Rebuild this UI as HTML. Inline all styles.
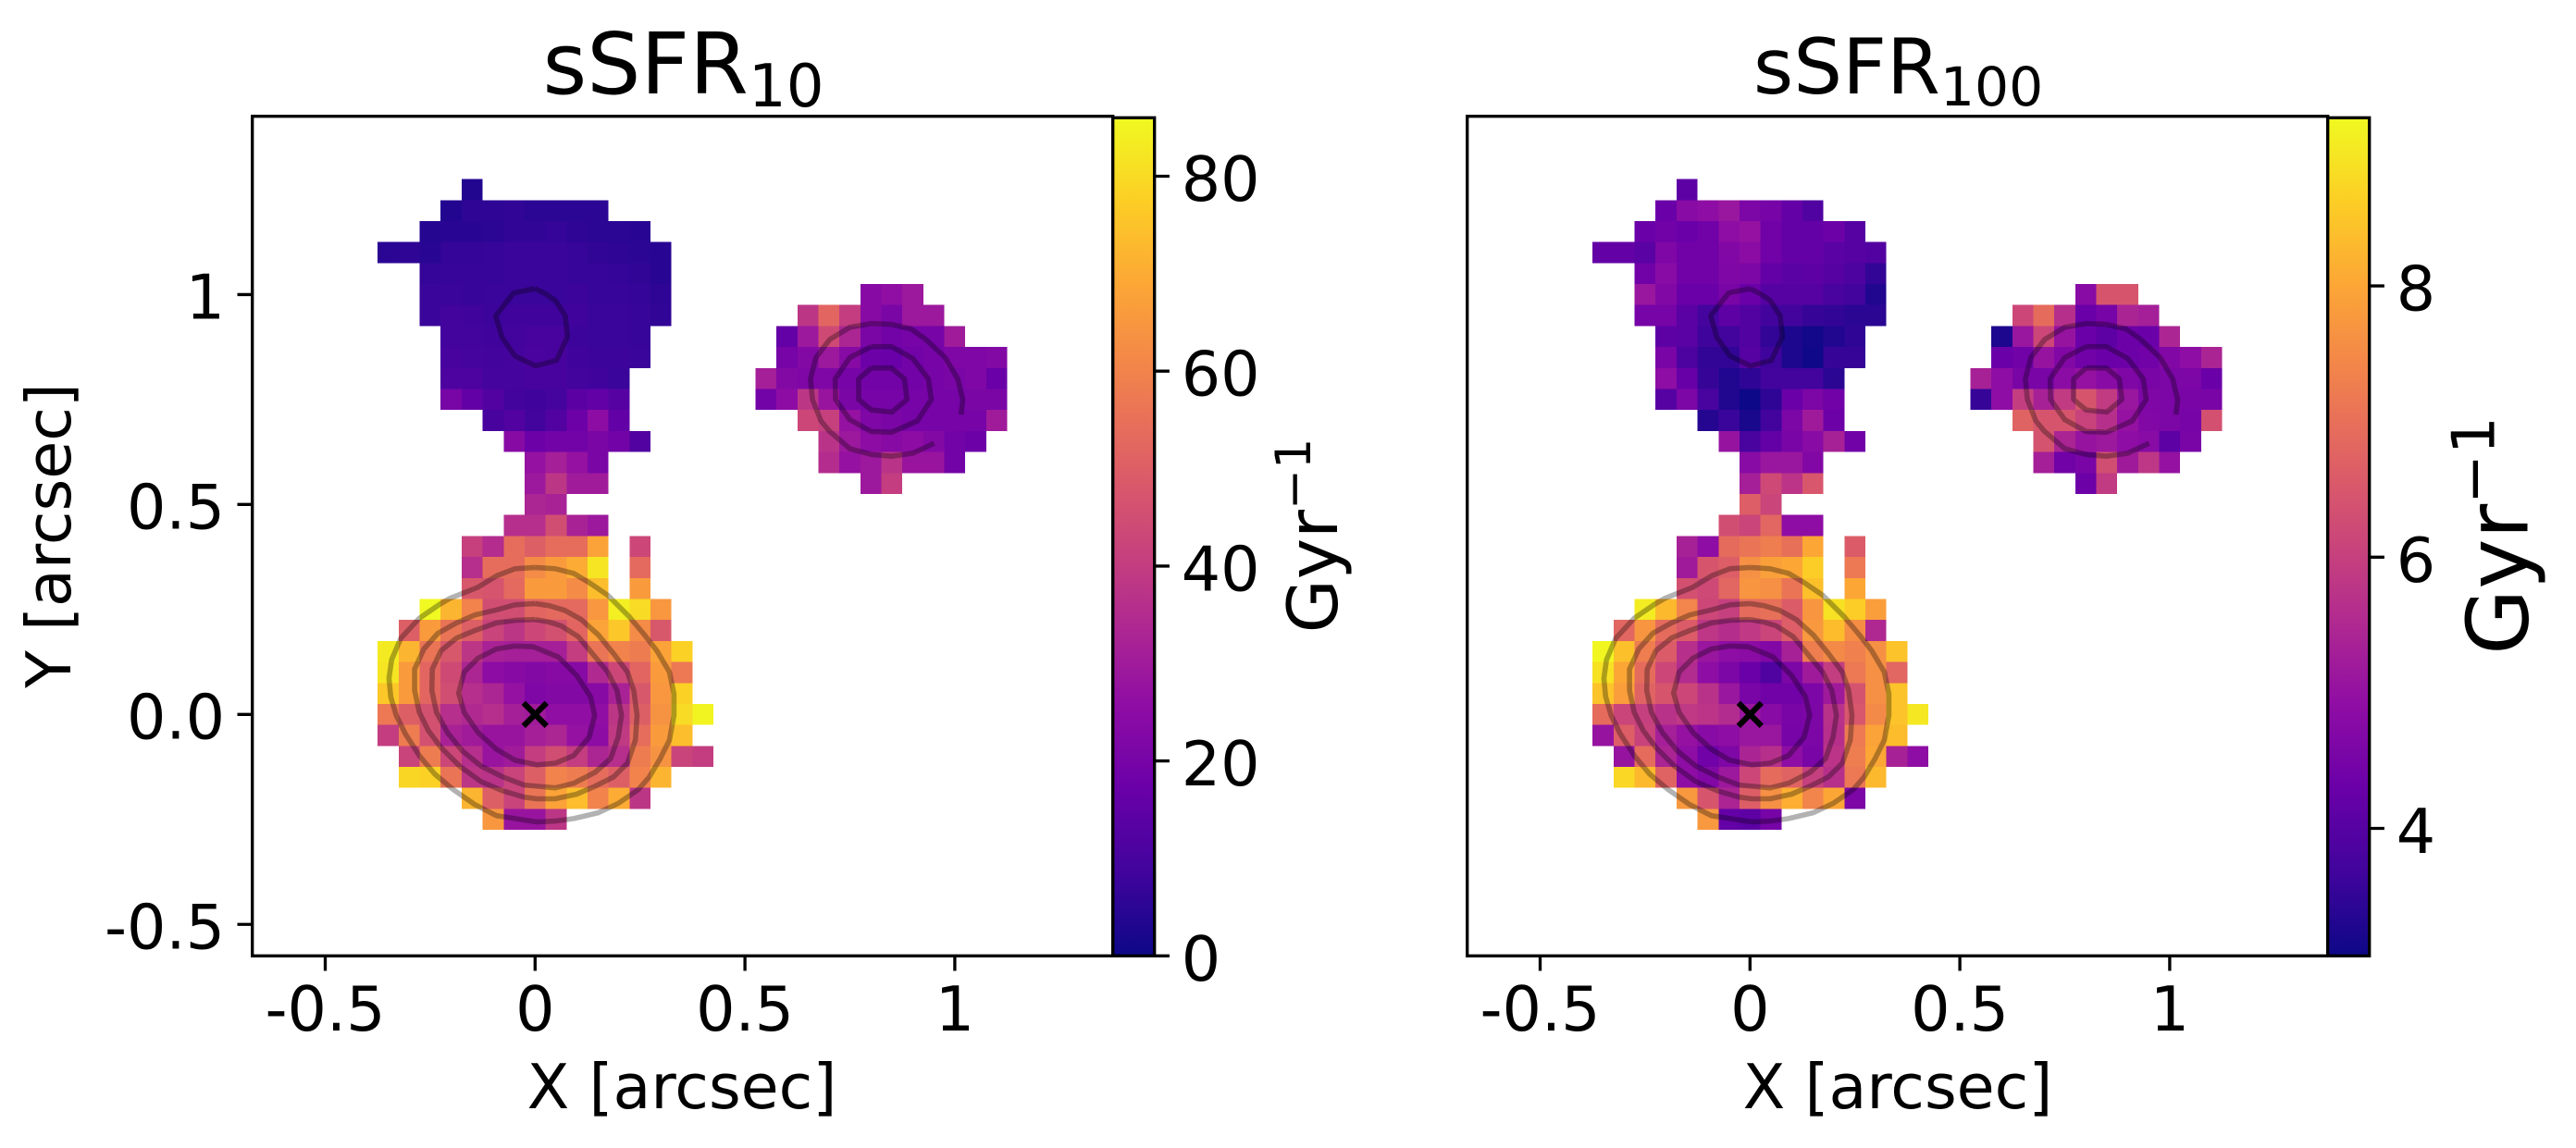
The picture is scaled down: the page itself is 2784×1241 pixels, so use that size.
<!DOCTYPE html>
<html lang="en">
<head>
<meta charset="utf-8">
<title>sSFR maps</title>
<style>
html,body{margin:0;padding:0;background:#fff;}
svg{display:block;}
text{font-family:"DejaVu Sans","Liberation Sans",sans-serif;fill:#000;}
</style>
</head>
<body>
<svg id="figure" xmlns="http://www.w3.org/2000/svg" width="2784" height="1241" viewBox="0 0 2784 1241">
  <rect x="0" y="0" width="2784" height="1241" fill="#fff"/>
  <defs>
    <linearGradient id="plasma-gradient" x1="0" y1="1" x2="0" y2="0"></linearGradient>
  </defs>
  <g id="panel-left"></g>
  <g id="panel-right"></g>
  <text x="738.5" y="101" font-size="91.7" text-anchor="middle">sSFR<tspan font-size="64.2" dy="14">10</tspan></text>
  <text x="2051.5" y="101" font-size="83.3" text-anchor="middle">sSFR<tspan font-size="58.3" dy="13">100</tspan></text>
  <text x="737" y="1198" font-size="66.67" text-anchor="middle">X [arcsec]</text>
  <text x="2051" y="1198" font-size="66.67" text-anchor="middle">X [arcsec]</text>
  <text transform="translate(76 579) rotate(-90)" font-size="66.67" text-anchor="middle">Y [arcsec]</text>
  <text transform="translate(1445 579) rotate(-90)" font-size="75" text-anchor="middle">Gyr<tspan font-size="52.5" dy="-29">−1</tspan></text>
  <text transform="translate(2731.7 579) rotate(-90)" font-size="91.7" text-anchor="middle">Gyr<tspan font-size="64.2" dy="-36">−1</tspan></text>
</svg>
<script>
// Pixel grid of the maps: one cell is 0.05 arcsec. Each entry is [row index, first column index, values].
const cellSize = 0.05;

// sSFR10 map values, Gyr^-1
const ssfr10North = [
  [25,-3,[3.5]],
  [24,-4,[3.5,5.5,5.5,6,5,5,5,5]],
  [23,-5,[4,4.5,4.5,5,6,6,6.5,5.5,5,5,4.5]],
  [22,-7,[5,5.5,4.5,6.5,6.5,7,7.5,7.5,7.5,7,6,5.5,5,4.5]],
  [21,-5,[6.5,7,7,7,7.5,7.5,7.5,7,7,6.5,6,4.5]],
  [20,-5,[7.5,7.5,7,7.5,7.5,7.5,7.5,8,7,7,6.5,5.5]],
  [19,-5,[7.5,9,8.5,8,8.5,8.5,8.5,8.5,7.5,7.5,7,6]],
  [18,-4,[9,9,8.5,9,10,10,8,7.5,7.5,7]],
  [17,-4,[10,9.5,9,9.5,10.5,10,8.5,8,8,7.5]],
  [16,-4,[11,11,9.5,9.5,10,10,9,8.5,7.5]],
  [15,-4,[20.5,15.5,12,9,8.5,9.5,14,15.5,13]],
  [14,-2,[10,12,9,12,18,25,15.5]],
  [13,-1,[24,18,19,19,21,19,12]],
  [12,0,[27,31,27,21]],
  [11,0,[29,38,30,30]],
  [10,0,[33,32]],
  [9,-1,[36,36,45,32,29]]
];
const ssfr10Main = [
  [8,-3,[41,35,54,50,54,54,68,null,43]],
  [7,-3,[36,54,54,62,66,70,82,null,53]],
  [6,-3,[48,47,53,66,66,62,74,null,66]],
  [5,-5,[86,72,60,45,45,52,53,53,65,84,80,65]],
  [4,-6,[50,66,56,50,42,38,43,46,52,68,76,62,48]],
  [3,-7,[83,72,56,48,38,32,31,31,31,40,56,60,58,68,78]],
  [2,-7,[82,66,52,44,33,25,24,23,24,24,34,43,52,66,57]],
  [1,-7,[76,66,52,45,36,33,27,22,23,23,24,32,48,65,78]],
  [0,-7,[57,50,46,36,34,36,31,30,26,26,26,38,50,64,80,85]],
  [-1,-7,[40,58,46,32,30,28,28,31,33,27,25,39,54,66,74]],
  [-2,-6,[42,58,43,36,28,30,40,45,40,33,36,58,64,42,40]],
  [-3,-6,[79,78,56,38,37,42,50,60,58,54,50,60,72]],
  [-4,-3,[72,50,42,56,68,74,60,70,38]],
  [-5,-2,[65,28,28,38]]
];
const ssfr10East = [
  [20,16,[24,26,29]],
  [19,13,[38,52,40,24,21,29,29]],
  [18,12,[16,29,44,33,21,19,20,20,30]],
  [17,12,[20,23,29,24,18,17,19,20,22,22,23]],
  [16,11,[31,23,22,22,20,19,19,19,20,21,22,17]],
  [15,11,[19,25,38,28,21,20,20,20,20,20,21,21]],
  [14,13,[43,41,27,22,21,20,20,20,20,30]],
  [13,14,[37,29,25,24,25,23,19,18]],
  [12,14,[35,27,29,37,28,28,19]],
  [11,16,[29,40]]
];

// sSFR100 map values, Gyr^-1
const ssfr100North = [
  [25,-3,[4.1]],
  [24,-4,[4.3,4.8,4.9,5.1,4.6,4.5,4.2,3.9]],
  [23,-5,[4.3,4.4,4.3,4.4,4.9,5,4.4,4.2,4.2,4.35,4]],
  [22,-7,[4.2,4.2,4.05,4.65,4.4,4.4,4.7,4.85,4.4,4.2,4.2,4.05,4,3.95]],
  [21,-5,[4.4,4.8,4.4,4.4,4.65,4.6,4.2,4.05,4.1,4,3.85,3.5]],
  [20,-5,[5.1,4.7,4.3,4.3,4.55,4.3,4,4,4,3.8,3.7,3.3]],
  [19,-5,[4.5,4.5,4.05,3.75,4.1,3.95,3.7,3.7,3.55,3.5,3.4,3.4]],
  [18,-4,[4.1,4.05,3.65,3.7,3.95,3.5,3.25,3.12,3.3,3.45]],
  [17,-4,[4.55,3.85,3.5,3.5,4,3.65,3.25,3.08,3.55,3.55]],
  [16,-4,[4.9,4.25,3.55,3.3,3.45,3.7,3.7,3.7,3.4]],
  [15,-4,[4,4.6,3.8,3.3,3.06,3.45,4.3,4.6,4.4]],
  [14,-2,[3.35,3.6,3.2,3.7,4.6,5.2,4.35]],
  [13,-1,[5.05,3.8,4.2,4.55,4.8,5.35,4.4]],
  [12,0,[4.8,5.1,5.1,4.7]],
  [11,0,[5.3,6.2,5.75,6.5]],
  [10,0,[6.65,6.1]],
  [9,-1,[6.3,6.1,6.8,4.9,4.9]]
];
const ssfr100Main = [
  [8,-3,[5.35,4.9,6.9,7.1,7.25,7,8,null,6.6]],
  [7,-3,[5.2,6.45,6.65,7.6,7.9,8,8.6,null,7.15]],
  [6,-3,[6.35,6.2,6.8,7.7,7.6,7.1,8.4,null,8]],
  [5,-5,[9.05,8.3,7.4,6.15,6,6.9,7,6.6,7.7,8.9,8.6,7.85]],
  [4,-6,[6.8,7.7,6.9,6.6,5.8,5.6,5.85,6.1,6.65,7.75,8.35,7.55,5.5]],
  [3,-7,[9.2,8.4,7.25,6.6,5.65,5.1,4.9,4.85,4.7,5.35,7.25,7.5,7.3,7.6,8.45]],
  [2,-7,[8.9,8,6.9,6.15,5.55,4.9,4.6,4.3,3.9,4.6,5.2,5.95,7.15,7.6,6.8]],
  [1,-7,[8.45,7.85,6.75,6.45,6.15,5.7,5.1,4.55,4.4,4.4,4.6,5.2,6.4,7.6,8.45]],
  [0,-7,[6.9,6.1,6,5.7,5.85,5.75,5.55,5.1,4.8,4.55,4.6,5.7,6.5,7.5,8.45,9]],
  [-1,-7,[5.05,6.65,6.05,5.3,5,4.8,4.9,5.1,5.1,4.5,4.6,5.65,7.2,7.95,8.35]],
  [-2,-6,[5.05,6.9,5.4,4.9,4.4,4.65,5.4,5.65,4.9,4.55,5.75,7.25,8,5.35,4.9]],
  [-3,-6,[8.75,8.3,6.75,4.9,4.7,5.15,6.15,6.9,6.75,6,5.65,7.15,8.3]],
  [-4,-3,[7.75,6.45,5.4,6.65,7.6,8.15,7.4,8,4.6]],
  [-5,-2,[7.75,4.2,4.1,4.5]]
];
const ssfr100East = [
  [20,16,[4.8,6.45,6.45]],
  [19,13,[6.15,6.9,5.65,4.3,4.5,5.4,5.3]],
  [18,12,[3.25,5.1,6.15,5.05,4.3,4.1,4.35,4.3,5.45]],
  [17,12,[4.3,4.4,5.05,4.7,4.4,4.3,4.35,4.4,4.7,4.9,5.4]],
  [16,11,[5.35,4.9,4.55,4.55,4.85,5,4.8,4.65,4.55,4.6,4.6,4.3]],
  [15,11,[3.55,4.9,5.95,5.35,5.9,6.45,5.9,5.1,4.65,4.6,4.55,4.55]],
  [14,13,[6.75,6.45,6.45,6.05,5.65,5,4.7,4.6,4.5,6.35]],
  [13,14,[6.4,5.4,5.05,5.15,4.9,4.8,4.1,4.55]],
  [12,14,[5.3,4.4,4.55,6.3,5.2,5.8,5]],
  [11,16,[4.35,5.9]]
];

// Contours, arcsec: [x, y] vertices
const contourMain1 = [[0,.35],[-.048,.347],[-.092,.33],[-.136,.303],[-.176,.287],[-.202,.277],[-.228,.262],[-.276,.229],[-.32,.181],[-.342,.13],[-.348,.086],[-.344,.042],[-.331,-.002],[-.309,-.046],[-.276,-.098],[-.239,-.142],[-.195,-.179],[-.143,-.215],[-.092,-.241],[-.048,-.248],[.004,-.256],[.048,-.254],[.092,-.248],[.151,-.234],[.198,-.212],[.246,-.179],[.272,-.149],[.298,-.105],[.32,-.061],[.331,-.002],[.331,.049],[.32,.101],[.29,.152],[.261,.189],[.224,.233],[.173,.284],[.129,.314],[.092,.336],[.048,.347],[0,.35]];
const contourMain2 = [[0,.264],[-.048,.261],[-.092,.249],[-.143,.237],[-.187,.218],[-.232,.193],[-.265,.156],[-.287,.108],[-.287,.057],[-.276,.005],[-.254,-.039],[-.224,-.079],[-.18,-.123],[-.129,-.16],[-.077,-.182],[-.026,-.197],[.004,-.201],[.048,-.201],[.099,-.19],[.143,-.171],[.187,-.149],[.22,-.116],[.239,-.061],[.243,-.002],[.235,.057],[.22,.101],[.187,.145],[.151,.189],[.11,.226],[.07,.248],[.033,.259],[0,.264]];
const contourMain3 = [[0,.226],[-.048,.224],[-.092,.218],[-.143,.2],[-.187,.182],[-.224,.152],[-.245,.108],[-.246,.057],[-.235,.005],[-.209,-.043],[-.173,-.087],[-.129,-.123],[-.077,-.149],[-.026,-.168],[.004,-.171],[.048,-.175],[.092,-.164],[.143,-.138],[.18,-.105],[.198,-.054],[.206,-.002],[.195,.057],[.173,.101],[.143,.137],[.103,.185],[.062,.211],[.033,.22],[0,.226]];
const contourMain4 = [[-.048,.163],[-.092,.156],[-.136,.134],[-.169,.101],[-.182,.051],[-.169,.005],[-.136,-.043],[-.092,-.083],[-.048,-.109],[.004,-.12],[.048,-.116],[.092,-.098],[.129,-.054],[.142,-.002],[.132,.042],[.099,.093],[.055,.137],[-.004,.161],[-.048,.163]];
const contourNorth = [[0,1.014],[-.051,1.004],[-.094,.949],[-.079,.898],[-.048,.854],[.001,.83],[.051,.843],[.077,.899],[.072,.949],[.048,.986],[.026,1.001],[0,1.014]];
const contourEastInner = [[.801,.825],[.849,.825],[.88,.799],[.886,.75],[.85,.72],[.801,.725],[.771,.75],[.771,.799],[.801,.825]];
const contourEastMiddle = [[.801,.876],[.849,.876],[.9,.848],[.937,.799],[.944,.75],[.911,.699],[.849,.672],[.801,.674],[.75,.702],[.716,.75],[.715,.799],[.75,.85],[.801,.876]];
const contourEastOuter = [[1.015,.714],[1.019,.75],[1.007,.799],[.977,.85],[.93,.894],[.896,.918],[.849,.929],[.801,.931],[.75,.922],[.702,.893],[.669,.85],[.656,.799],[.661,.75],[.681,.699],[.702,.674],[.75,.633],[.801,.619],[.849,.615],[.9,.622],[.951,.646]];

// Target position, arcsec
const targetX = [0];
const targetY = [0];

// Tick values and labels
const xTickValues = [-0.5, 0, 0.5, 1];
const xTickLabels = ['-0.5', '0', '0.5', '1'];
const yTickValues = [-0.5, 0, 0.5, 1];
const yTickLabels = ['-0.5', '0.0', '0.5', '1'];
const ssfr10ColorRange = [0, 86];
const ssfr10ColorTicks = [0, 20, 40, 60, 80];
const ssfr100ColorRange = [3.06, 9.24];
const ssfr100ColorTicks = [4, 6, 8];

// Plasma colormap
const plasmaStops = ['#0d0887','#41049d','#6a00a8','#8f0da4','#b12a90','#cc4778','#e16462','#f2844b','#fca636','#fcce25','#f0f921'];

const NS = 'http://www.w3.org/2000/svg';
const figure = document.getElementById('figure');

function make(tag, attrs, parent) {
  const el = document.createElementNS(NS, tag);
  for (const key in attrs) el.setAttribute(key, attrs[key]);
  parent.appendChild(el);
  return el;
}
function hexToRgb(h) {
  return [parseInt(h.slice(1,3),16), parseInt(h.slice(3,5),16), parseInt(h.slice(5,7),16)];
}
function plasma(t) {
  const c = Math.max(0, Math.min(1, t)) * (plasmaStops.length - 1);
  const k = Math.min(plasmaStops.length - 2, Math.floor(c));
  const a = hexToRgb(plasmaStops[k]);
  const b = hexToRgb(plasmaStops[k + 1]);
  const f = c - k;
  return 'rgb(' + a.map((v, n) => Math.round(v + (b[n] - v) * f)).join(',') + ')';
}

const gradient = document.getElementById('plasma-gradient');
plasmaStops.forEach((color, n) => {
  make('stop', { offset: n / (plasmaStops.length - 1), 'stop-color': color }, gradient);
});

const SPINE = 3.33;
const TICK = 14.6;
const FONT = 66.67;

function drawPanel(cfg) {
  const root = document.getElementById(cfg.id);
  const box = { left: cfg.left, right: cfg.left + 930, top: 125.7, bottom: 1033.3 };
  const xScale = x => cfg.zeroX + x * 453.6;
  const yScale = y => 772.3 - y * 453.9;

  const cells = make('g', { 'shape-rendering': 'crispEdges' }, root);
  
  
  cfg.rows.forEach(group => group.forEach(row => {
    row[2].forEach((value, n) => {
      if (value === null) return;
      const col = row[1] + n;
      const x0 = xScale((col - 0.5) * cellSize);
      const x1 = xScale((col + 0.5) * cellSize);
      const y0 = yScale((row[0] + 0.5) * cellSize);
      const y1 = yScale((row[0] - 0.5) * cellSize);
      const t = (value - cfg.range[0]) / (cfg.range[1] - cfg.range[0]);
      const cell = make('rect', { x: x0, y: y0, width: x1 - x0, height: y1 - y0, fill: plasma(t) }, cells);
      
      
    });
  }));

  const contourSet = [contourMain1, contourMain2, contourMain3, contourMain4, contourNorth, contourEastInner, contourEastMiddle, contourEastOuter];
  contourSet.forEach(points => {
    const d = points.map(p => xScale(p[0]).toFixed(1) + ',' + yScale(p[1]).toFixed(1)).join(' ');
    const line = make('polyline', { points: d, fill: 'none', stroke: '#000', 'stroke-opacity': 0.3, 'stroke-width': 5.6, 'stroke-linejoin': 'round' }, root);
    
    
  });

  const mx = xScale(targetX[0]);
  const my = yScale(targetY[0]);
  const marker = make('path', { d: `M${mx-12.5} ${my-12.5}L${mx+12.5} ${my+12.5}M${mx-12.5} ${my+12.5}L${mx+12.5} ${my-12.5}`, stroke: '#000', 'stroke-width': 6.2, fill: 'none' }, root);
  
  

  const frame = make('rect', { x: box.left, y: box.top, width: box.right - box.left, height: box.bottom - box.top, fill: 'none', stroke: '#000', 'stroke-width': SPINE }, root);
  
  

  xTickValues.forEach((value, n) => {
    const x = xScale(value);
    const tick = make('line', { x1: x, x2: x, y1: box.bottom, y2: box.bottom + TICK + 1.6, stroke: '#000', 'stroke-width': SPINE }, root);
    
    
    const label = make('text', { x: x, y: 1114, 'font-size': FONT, 'text-anchor': 'middle' }, root);
    label.textContent = xTickLabels[n];
    
    
  });

  if (cfg.yAxis) {
    yTickValues.forEach((value, n) => {
      const y = yScale(value);
      const tick = make('line', { x1: box.left - TICK - 1.6, x2: box.left, y1: y, y2: y, stroke: '#000', 'stroke-width': SPINE }, root);
      
      
      const label = make('text', { x: 243, y: y + 26, 'font-size': FONT, 'text-anchor': 'end' }, root);
      label.textContent = yTickLabels[n];
      
      
    });
  }

  const bar = { left: box.right, right: box.right + 45, top: 127.3, bottom: 1033.3 };
  const colorScale = v => bar.bottom - (v - cfg.range[0]) / (cfg.range[1] - cfg.range[0]) * (bar.bottom - bar.top);
  const ramp = make('rect', { x: bar.left, y: bar.top, width: bar.right - bar.left, height: bar.bottom - bar.top, fill: 'url(#plasma-gradient)', stroke: '#000', 'stroke-width': SPINE }, root);
  
  
  cfg.ticks.forEach(value => {
    const y = colorScale(value);
    const tick = make('line', { x1: bar.right, x2: bar.right + TICK + 1.6, y1: y, y2: y, stroke: '#000', 'stroke-width': SPINE }, root);
    
    
    const label = make('text', { x: bar.right + 29, y: y + 26.5, 'font-size': FONT }, root);
    label.textContent = String(value);
    
    
  });
}

drawPanel({ id: 'panel-left', prefix: 'ssfr10', left: 272.7, zeroX: 578.3, yAxis: true, rows: [ssfr10North, ssfr10Main, ssfr10East], range: ssfr10ColorRange, ticks: ssfr10ColorTicks });
drawPanel({ id: 'panel-right', prefix: 'ssfr100', left: 1585.7, zeroX: 1891.3, yAxis: false, rows: [ssfr100North, ssfr100Main, ssfr100East], range: ssfr100ColorRange, ticks: ssfr100ColorTicks });
</script>
</body>
</html>
